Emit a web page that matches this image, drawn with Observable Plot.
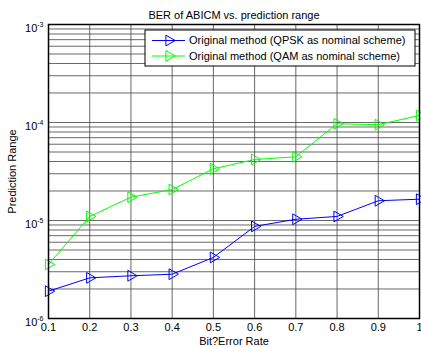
<!DOCTYPE html>
<html><head><meta charset="utf-8">
<script src="https://cdn.jsdelivr.net/npm/d3@7"></script>
<script src="https://cdn.jsdelivr.net/npm/@observablehq/plot@0.6"></script>
<style>body{margin:0;background:#fff}svg{font-family:"Liberation Sans",Arial,sans-serif}</style>
</head><body><div id="chart"></div>
<script>
const ber = [0.1, 0.2, 0.3, 0.4, 0.5, 0.6, 0.7, 0.8, 0.9, 1.0];
const qpsk = [1.9e-6, 2.6e-6, 2.73e-6, 2.83e-6, 4.2e-6, 8.7e-6, 1.03e-5, 1.1e-5, 1.59e-5, 1.65e-5];
const qam = [3.56e-6, 1.1e-5, 1.73e-5, 2.07e-5, 3.37e-5, 4.19e-5, 4.47e-5, 9.7e-5, 9.5e-5, 1.18e-4];
const seriesNames = ["Original method (QPSK as nominal scheme)", "Original method (QAM as nominal scheme)"];
const seriesColors = ["#0000ff", "#00ff00"];
const yMajor = [1e-6, 1e-5, 1e-4, 1e-3];
const mantissas = [1, 2, 3, 4, 5, 6, 7, 8, 9];
const title = "BER of ABICM vs. prediction range";
const xLabel = "Bit?Error Rate";
const yLabel = "Prediction Range";

const yGrid = [];
yMajor.slice(0, 3).forEach(d => mantissas.forEach(m => yGrid.push(d * m)));
yGrid.push(1e-3);

const data = [];
ber.forEach((x, i) => {
  data.push({x, y: qpsk[i], s: seriesNames[0]});
  data.push({x, y: qam[i], s: seriesNames[1]});
});

const plot = Plot.plot({
  width: 421, height: 347,
  marginLeft: 48, marginRight: 2, marginTop: 24, marginBottom: 29,
  style: {fontFamily: "Liberation Sans, Arial, sans-serif", fontSize: "11px", background: "#fff"},
  x: {domain: [0.1, 1]},
  y: {type: "log", domain: [1e-6, 1e-3]},
  color: {domain: seriesNames, range: seriesColors},
  marks: [
    Plot.gridX(ber, {stroke: "#444", strokeOpacity: 0.8, strokeWidth: 1}),
    Plot.gridY(yGrid, {stroke: "#444", strokeOpacity: 0.8, strokeWidth: 1}),
    Plot.axisX(ber, {tickSize: 0, tickPadding: 5, fontSize: 11, fill: "#000",
      tickFormat: d => d === 1 ? "1" : d.toFixed(1),
      label: xLabel, labelAnchor: "center", labelArrow: "none", labelOffset: 26}),
    Plot.axisY(yMajor, {tickSize: 0, tickPadding: 5, fontSize: 11, fill: "#000",
      tickFormat: d => "10|" + Math.round(Math.log10(d)),
      label: yLabel, labelAnchor: "center", labelArrow: "none", labelOffset: 40}),
    Plot.line(data, {x: "x", y: "y", z: "s", stroke: "s", strokeWidth: 1}),
    Plot.dot(data, {x: "x", y: "y", stroke: "s", symbol: "triangle", rotate: 90, r: 4, strokeWidth: 1, fill: "none"}),
    Plot.frame({stroke: "#000", strokeWidth: 1.5}),
    Plot.text([title], {frameAnchor: "top", dy: -13, fontSize: 11, fill: "#000"})
  ]
});
document.getElementById("chart").appendChild(plot);

// superscript exponents on y tick labels
d3.select(plot).selectAll('g[aria-label="y-axis tick label"] text').each(function() {
  const t = d3.select(this);
  const [base, exp] = t.text().split("|");
  t.text(base);
  t.append("tspan").attr("dy", "-0.6em").attr("font-size", 7).text(exp);
  t.attr("dy", "0.32em");
});

// legend box
const svg = d3.select(plot);
const lg = svg.append("g").attr("text-anchor", "start");
lg.append("rect").attr("x", 145).attr("y", 30).attr("width", 270).attr("height", 36)
  .attr("fill", "#fff").attr("stroke", "#000").attr("stroke-width", 1);
seriesNames.forEach((name, i) => {
  const y = 40.5 + i * 15.5;
  lg.append("line").attr("x1", 152).attr("x2", 185).attr("y1", y).attr("y2", y)
    .attr("stroke", seriesColors[i]).attr("stroke-width", 1);
  lg.append("path").attr("d", d3.symbol(d3.symbolTriangle, 50)()).attr("transform", `translate(169,${y}) rotate(90)`)
    .attr("fill", "none").attr("stroke", seriesColors[i]);
  lg.append("text").attr("x", 189).attr("y", y).attr("dy", "0.35em").attr("font-size", 11)
    .attr("fill", "#000").attr("text-anchor", "start").text(name);
});
</script></body></html>
